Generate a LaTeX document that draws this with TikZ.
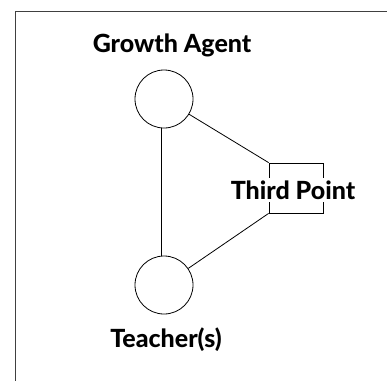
\documentclass[tikz,border=0pt]{standalone}
\usepackage{fontspec}
\setmainfont{Lato}[BoldFont={Lato Heavy}]
\begin{document}
\begin{tikzpicture}[x=1pt,y=-1pt,
  agent/.style={circle,draw,line width=0.8pt,minimum size=58pt,inner sep=0pt},
  lbl/.style={font=\bfseries\fontsize{25}{28}\selectfont,inner sep=0pt},
  link/.style={line width=0.8pt}]
\useasboundingbox (0,0) rectangle (387,381);
% open frame: top and left edges only
\draw[line width=1pt,black!75] (387,11) -- (15,11) -- (15,381);
% the two people
\node[agent] (ga) at (164,99) {};
\node[agent] (tc) at (164,285) {};
\node[lbl] (gal) at (172,45) {Growth Agent};
\node[lbl] (tcl) at (166,340) {Teacher(s)};
% third point: small box partly hidden by its label
\node[draw,link,minimum width=54pt,minimum height=50pt,inner sep=0pt] (tp) at (296,188) {};
\node[lbl,fill=white,inner ysep=3pt,inner xsep=1pt] (tpl) at (293,190) {Third Point};
% connectors
\draw[link] ([xshift=-3pt]ga.south) -- ([xshift=-3pt]tc.north);
\draw[link] (ga) -- (tp.north west);
\draw[link] (tp.south west) -- (tc);
\end{tikzpicture}
\end{document}
